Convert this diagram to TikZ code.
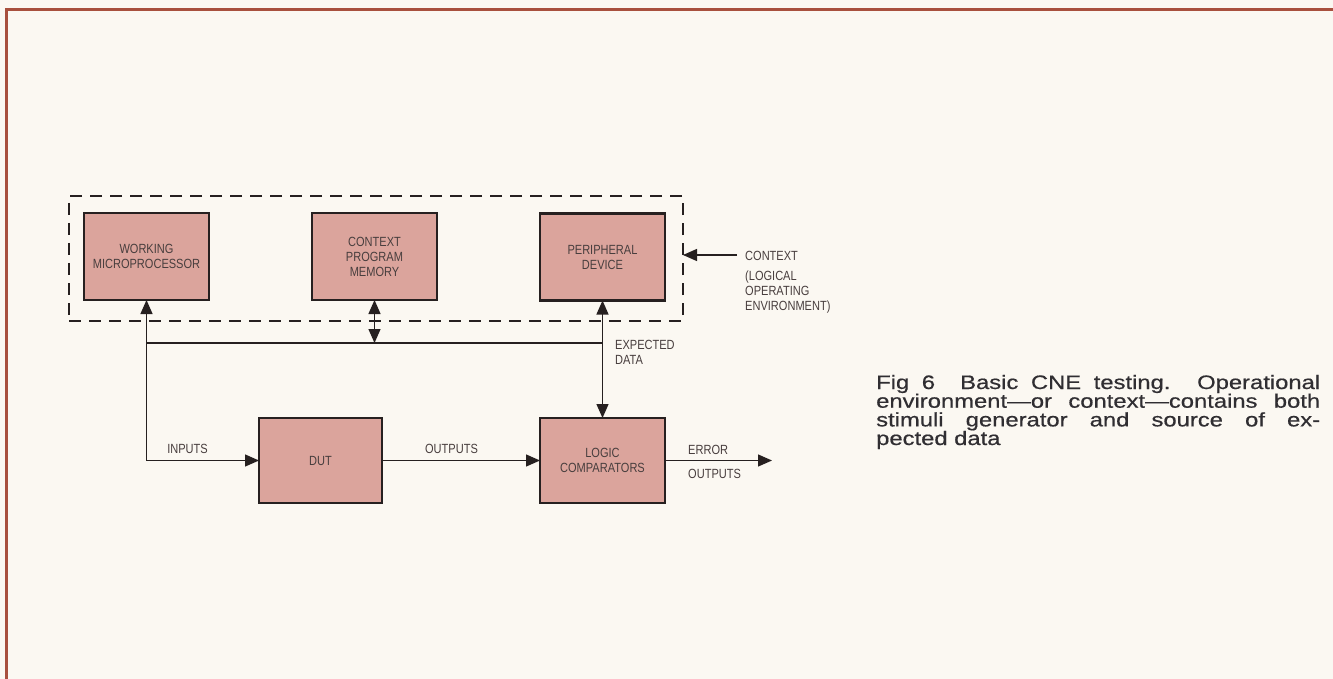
\documentclass[tikz,border=0pt]{standalone}
\usepackage{fontspec}
\setmainfont{Liberation Sans}
\newfontfamily\labfont[FakeStretch=0.83]{Liberation Sans}
\newfontfamily\capfam[FakeStretch=1.22,FakeBold=0.6]{Liberation Sans}
\newcommand\diafont{\labfont\fontsize{13.3}{15}\selectfont}
\newcommand\capfont{\capfam\fontsize{19.5}{18.7}\selectfont}
\usetikzlibrary{arrows.meta}
\definecolor{paper}{RGB}{251,248,242}
\definecolor{framecol}{RGB}{168,80,62}
\definecolor{boxfill}{RGB}{219,164,156}
\definecolor{ink}{RGB}{38,32,32}
\definecolor{labcol}{RGB}{72,62,62}
\definecolor{capcol}{RGB}{48,46,50}
\begin{document}
\begin{tikzpicture}[x=1pt,y=-1pt,
  blk/.style={draw=ink,line width=2.6pt,fill=boxfill,inner sep=0pt,outer sep=0pt,
    align=center,text=labcol,font=\diafont},
  lab/.style={text=labcol,font=\diafont,inner sep=0pt},
  captxt/.style={text=capcol,font=\capfont,inner sep=0pt,anchor=base west,
    text height=13pt,text depth=3pt},
  conn/.style={draw=ink,line width=1.3pt},
  tip/.style={-{Triangle[length=14pt,width=12pt]}},
  dtip/.style={{Triangle[length=14pt,width=12pt]}-{Triangle[length=14pt,width=12pt]}}]
\fill[paper] (0,0) rectangle (1333,679);
\useasboundingbox (0,0) rectangle (1333,679);
% outer frame
\draw[framecol,line width=3pt] (6,679) -- (6,10) -- (1333,10);
% context (dashed) box
\node[draw=ink,dash pattern=on 12pt off 8pt,line width=1.5pt,minimum width=614pt,
  minimum height=125pt,inner sep=0pt,outer sep=0pt] (ctx) at (376,258.5) {};
% blocks
\node[blk,minimum width=125pt,minimum height=87pt] (wm) at (146.5,256.5) {WORKING\\MICROPROCESSOR};
\node[blk,minimum width=125pt,minimum height=87pt] (cpm) at (374.5,256.5) {CONTEXT\\PROGRAM\\MEMORY};
\node[blk,minimum width=125pt,minimum height=87pt] (pd) at (602.5,257) {PERIPHERAL\\DEVICE};
\node[blk,minimum width=123pt,minimum height=85pt] (dut) at (320.5,460.5) {DUT};
\node[blk,minimum width=125pt,minimum height=85pt] (lc) at (602.5,460.5) {LOGIC\\COMPARATORS};
% helper coordinates
\coordinate (busy) at (0,343);
\coordinate (corner) at (wm.south |- dut.west);
\coordinate (errend) at (772,460.5);
\coordinate (ctxstart) at (737,255);
% connectors
\draw[conn,tip] (corner) -- (wm.south);
\draw[conn,tip] (corner) -- (dut.west);
\draw[conn] (wm.south |- busy) -- (pd.south |- busy);
\draw[conn,dtip] (cpm.south |- busy) -- (cpm.south);
\draw[conn,dtip] (pd.south) -- (lc.north);
\draw[conn,tip] (dut.east) -- (lc.west);
\draw[conn,tip] (lc.east) -- (errend);
\draw[conn,tip] (ctxstart) -- (ctx.east |- ctxstart);
% labels
\node[lab] (inputs) at (187.5,449) {INPUTS};
\node[lab] (outputs) at (451.5,449) {OUTPUTS};
\node[lab,anchor=west] (error) at (688,450) {ERROR};
\node[lab,anchor=west] (errout) at (688,474) {OUTPUTS};
\node[lab,anchor=west,align=left] (expd) at (615,352.5) {EXPECTED\\DATA};
\node[lab,anchor=west] (ctxlab) at (745,256) {CONTEXT};
\node[lab,anchor=west,align=left] (ctxenv) at (745,292.5) {(LOGICAL\\OPERATING\\ENVIRONMENT)};
% caption
\node[captxt] (c1) at (876,389) {\makebox[444pt][s]{Fig 6\ \ Basic CNE testing. Operational}};
\node[captxt] (c2) at (876,407.7) {\makebox[444pt][s]{environment—or context—contains both}};
\node[captxt] (c3) at (876,426.4) {\makebox[444pt][s]{stimuli generator and source of ex-}};
\node[captxt] (c4) at (876,445) {pected data};
\end{tikzpicture}
\end{document}
